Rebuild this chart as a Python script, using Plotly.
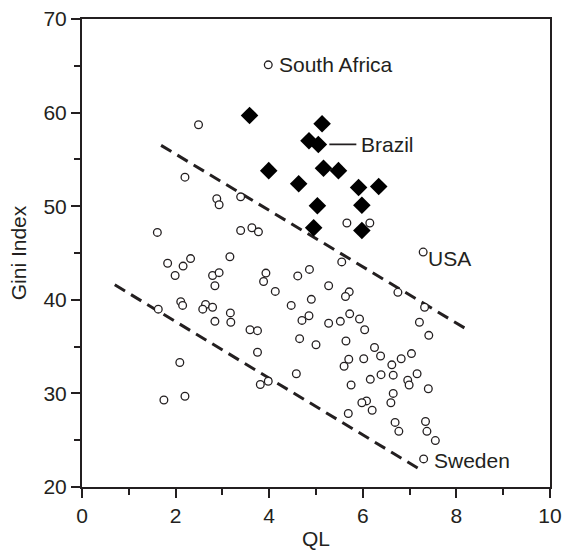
import plotly.graph_objects as go

# Open-circle countries: QL vs Gini index
circle_ql = [1.61, 2.20, 2.49, 2.88, 2.93, 3.39, 3.39, 3.63, 3.77,
             1.83, 1.99, 2.16, 2.32, 3.16, 2.79, 2.93, 2.84, 3.93, 3.88, 4.13,
             1.63, 2.11, 2.15, 2.64, 2.58, 2.79, 2.84, 3.17, 3.18, 3.59, 3.75,
             3.75, 2.09, 1.75, 2.20, 3.81, 3.98,
             4.61, 4.86, 5.55, 5.27, 5.71, 5.63, 6.75, 4.47, 4.90, 4.70, 4.85,
             5.27, 5.52, 5.72, 5.93, 6.04, 4.65, 5.00, 5.64, 6.25, 6.38, 7.04,
             6.02, 5.70, 5.60, 6.82, 6.62, 6.65, 6.39, 6.16, 6.96, 6.99, 7.16,
             4.58, 5.75, 6.65, 6.60, 6.08, 5.98, 6.20, 5.69, 6.69, 6.77, 7.34,
             7.37, 7.55, 7.40, 7.32, 7.21, 7.41, 5.66, 6.15]
circle_gini = [47.2, 53.1, 58.7, 50.8, 50.15, 51.0, 47.4, 47.7, 47.26,
               43.9, 42.6, 43.6, 44.4, 44.6, 42.6, 42.9, 41.5, 42.85, 41.95, 40.9,
               39.0, 39.8, 39.4, 39.5, 39.0, 39.2, 37.7, 38.6, 37.6, 36.8, 36.7,
               34.4, 33.3, 29.3, 29.7, 30.95, 31.3,
               42.55, 43.25, 44.05, 41.5, 40.85, 40.35, 40.8, 39.4, 40.05, 37.8, 38.3,
               37.5, 37.7, 38.5, 37.95, 36.8, 35.85, 35.2, 35.6, 34.9, 34.0, 34.25,
               33.7, 33.65, 32.9, 33.7, 33.05, 31.95, 32.0, 31.5, 31.4, 30.9, 32.1,
               32.1, 30.9, 30.0, 29.0, 29.2, 29.0, 28.2, 27.85, 26.9, 25.95, 27.0,
               25.95, 24.96, 30.5, 39.2, 37.6, 36.2, 48.2, 48.2]

# Named countries (open circles with labels)
label_names = ["South Africa", "USA", "Sweden"]
label_ql = [3.98, 7.29, 7.30]
label_gini = [65.1, 45.1, 23.0]

# Latin American countries (filled diamonds); Brazil is entry 3
diamond_ql = [3.58, 5.13, 4.85, 5.05, 3.99, 5.16, 5.48, 4.63, 5.91, 6.34,
              5.03, 5.98, 4.95, 5.98]
diamond_gini = [59.7, 58.8, 57.0, 56.6, 53.8, 54.05, 53.8, 52.4, 52.0, 52.1,
                50.05, 50.1, 47.7, 47.4]
brazil_index = 3

# Dashed envelope lines (end points)
upper_ql = [1.69, 8.27]
upper_gini = [56.5, 36.7]
lower_ql = [0.70, 7.23]
lower_gini = [41.6, 21.85]

FONT = "Liberation Sans, Arial, Helvetica, sans-serif"
INK = "#231f20"

fig = go.Figure()

for xs, ys in [(upper_ql, upper_gini), (lower_ql, lower_gini)]:
    fig.add_trace(go.Scatter(
        x=xs, y=ys, mode="lines",
        line=dict(color=INK, width=3, dash="12px,7px"),
        hoverinfo="skip", showlegend=False))

circle_style = dict(symbol="circle", size=7.7, color="white",
                    line=dict(color=INK, width=1.3))

fig.add_trace(go.Scatter(x=circle_ql, y=circle_gini, mode="markers",
                         marker=circle_style, showlegend=False))
fig.add_trace(go.Scatter(x=label_ql, y=label_gini, mode="markers",
                         marker=circle_style, showlegend=False))
fig.add_trace(go.Scatter(x=diamond_ql, y=diamond_gini, mode="markers",
                         marker=dict(symbol="diamond", size=13.5, color="black",
                                     line=dict(width=0)),
                         showlegend=False))

label_font = dict(family=FONT, size=21, color=INK)
shifts = {"South Africa": (9, 0), "USA": (3, -6), "Sweden": (8, -2)}
for name, qx, gy in zip(label_names, label_ql, label_gini):
    dx, dy = shifts[name]
    fig.add_annotation(x=qx, y=gy, text=name, showarrow=False,
                       xanchor="left", yanchor="middle",
                       xshift=dx, yshift=dy, font=label_font)

fig.add_annotation(x=diamond_ql[brazil_index], y=diamond_gini[brazil_index],
                   text="Brazil", showarrow=True, arrowhead=0,
                   arrowwidth=1.6, arrowcolor=INK, standoff=11,
                   ax=69, ay=0, borderpad=4, font=label_font)

axis_common = dict(
    showline=True, linecolor=INK, linewidth=2, mirror=True,
    ticks="outside", tickwidth=2, tickcolor=INK, ticklen=9,
    showgrid=False, zeroline=False, automargin=False,
    tickfont=dict(family=FONT, size=21, color=INK),
    title_font=dict(family=FONT, size=21, color=INK),
)

fig.update_xaxes(range=[0, 10], dtick=2, tick0=0,
                 minor=dict(dtick=1, ticks="outside", ticklen=6,
                            tickwidth=2, tickcolor=INK),
                 title_text="QL", title_standoff=6, **axis_common)
fig.update_yaxes(range=[20, 70], dtick=10, tick0=20,
                 minor=dict(dtick=5, ticks="outside", ticklen=6,
                            tickwidth=2, tickcolor=INK),
                 title_text="Gini Index", title_standoff=11, **axis_common)

fig.update_layout(
    width=563, height=550,
    margin=dict(l=82, r=13, t=19, b=63),
    plot_bgcolor="white", paper_bgcolor="white",
    font=dict(family=FONT, color=INK),
)

fig.write_html("out.html")
